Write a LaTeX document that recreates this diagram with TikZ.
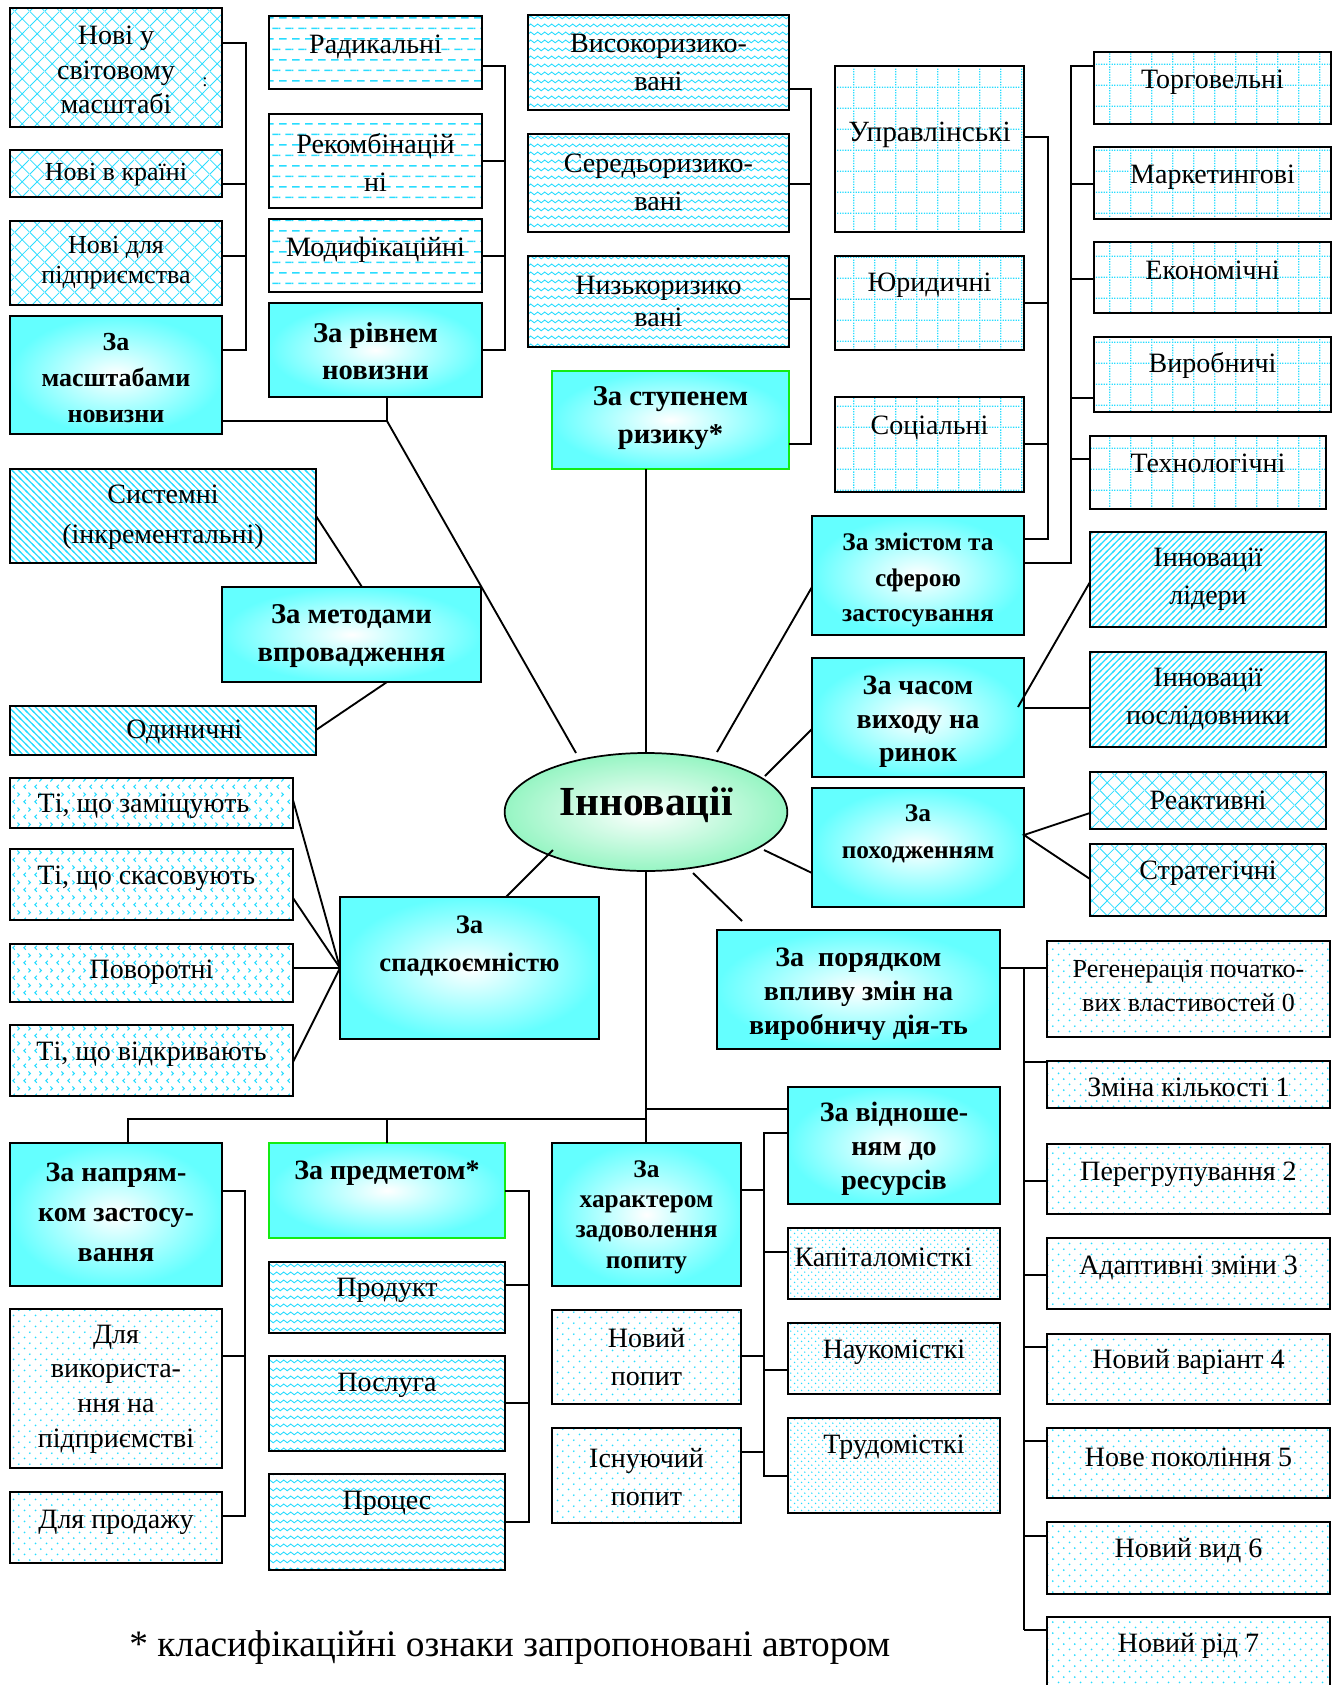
\documentclass[tikz,border=0pt]{standalone}
\usepackage{fontspec}
\setmainfont{Liberation Serif}
\usetikzlibrary{patterns,fit,shapes.geometric}

\definecolor{pc}{RGB}{40,220,255}
\definecolor{cy}{RGB}{100,255,255}
\definecolor{mint}{RGB}{150,245,195}
\definecolor{gbord}{RGB}{20,235,20}

\pgfdeclarepatternformonly{xhatch}{\pgfqpoint{0pt}{0pt}}{\pgfqpoint{11pt}{11pt}}{\pgfqpoint{11pt}{11pt}}{%
 \pgfsetlinewidth{0.6pt}%
 \pgfpathmoveto{\pgfqpoint{0pt}{0pt}}\pgfpathlineto{\pgfqpoint{11pt}{11pt}}%
 \pgfpathmoveto{\pgfqpoint{0pt}{11pt}}\pgfpathlineto{\pgfqpoint{11pt}{0pt}}%
 \pgfusepath{stroke}}
\pgfdeclarepatternformonly{hdash}{\pgfqpoint{0pt}{0pt}}{\pgfqpoint{10pt}{16pt}}{\pgfqpoint{10pt}{16pt}}{%
 \pgfsetlinewidth{1.1pt}%
 \pgfpathmoveto{\pgfqpoint{0pt}{4pt}}\pgfpathlineto{\pgfqpoint{6pt}{4pt}}%
 \pgfpathmoveto{\pgfqpoint{5pt}{12pt}}\pgfpathlineto{\pgfqpoint{10pt}{12pt}}%
 \pgfpathmoveto{\pgfqpoint{0pt}{12pt}}\pgfpathlineto{\pgfqpoint{1pt}{12pt}}%
 \pgfusepath{stroke}}
\pgfdeclarepatternformonly{waves}{\pgfqpoint{0pt}{0pt}}{\pgfqpoint{5.6pt}{6pt}}{\pgfqpoint{5.6pt}{6pt}}{%
 \pgfsetlinewidth{0.75pt}%
 \pgfpathmoveto{\pgfqpoint{0pt}{3pt}}%
 \pgfpathcurveto{\pgfqpoint{0.95pt}{4.5pt}}{\pgfqpoint{1.85pt}{4.5pt}}{\pgfqpoint{2.8pt}{3pt}}%
 \pgfpathcurveto{\pgfqpoint{3.75pt}{1.5pt}}{\pgfqpoint{4.65pt}{1.5pt}}{\pgfqpoint{5.6pt}{3pt}}%
 \pgfusepath{stroke}}
\pgfdeclarepatternformonly{dgrid}{\pgfqpoint{0pt}{0pt}}{\pgfqpoint{16pt}{16pt}}{\pgfqpoint{16pt}{16pt}}{%
 \foreach \i in {0,...,7}{%
   \pgfpathrectangle{\pgfpoint{0pt}{\i*2pt}}{\pgfqpoint{1pt}{1pt}}%
   \pgfpathrectangle{\pgfpoint{\i*2pt}{0pt}}{\pgfqpoint{1pt}{1pt}}}%
 \pgfusepath{fill}}
\pgfdeclarepatternformonly{nwl}{\pgfqpoint{-1pt}{-1pt}}{\pgfqpoint{6pt}{6pt}}{\pgfqpoint{5pt}{5pt}}{%
 \pgfsetlinewidth{0.9pt}%
 \pgfpathmoveto{\pgfqpoint{-1pt}{6pt}}\pgfpathlineto{\pgfqpoint{6pt}{-1pt}}%
 \pgfusepath{stroke}}
\pgfdeclarepatternformonly{nel}{\pgfqpoint{-1pt}{-1pt}}{\pgfqpoint{6pt}{6pt}}{\pgfqpoint{5pt}{5pt}}{%
 \pgfsetlinewidth{0.9pt}%
 \pgfpathmoveto{\pgfqpoint{-1pt}{-1pt}}\pgfpathlineto{\pgfqpoint{6pt}{6pt}}%
 \pgfusepath{stroke}}
\pgfdeclarepatternformonly{chev}{\pgfqpoint{0pt}{0pt}}{\pgfqpoint{8pt}{11pt}}{\pgfqpoint{8pt}{11pt}}{%
 \pgfsetlinewidth{0.8pt}%
 \pgfpathmoveto{\pgfqpoint{3pt}{1pt}}\pgfpathlineto{\pgfqpoint{1.5pt}{2.5pt}}\pgfpathlineto{\pgfqpoint{3pt}{4pt}}%
 \pgfpathmoveto{\pgfqpoint{5pt}{6.5pt}}\pgfpathlineto{\pgfqpoint{6.5pt}{8pt}}\pgfpathlineto{\pgfqpoint{5pt}{9.5pt}}%
 \pgfusepath{stroke}}
\pgfdeclarepatternformonly{sdots}{\pgfqpoint{0pt}{0pt}}{\pgfqpoint{8pt}{8pt}}{\pgfqpoint{8pt}{8pt}}{%
 \pgfpathcircle{\pgfqpoint{2pt}{2pt}}{0.75pt}\pgfpathcircle{\pgfqpoint{6pt}{6pt}}{0.75pt}%
 \pgfusepath{fill}}
\pgfdeclarepatternformonly{ddots}{\pgfqpoint{0pt}{0pt}}{\pgfqpoint{5pt}{5pt}}{\pgfqpoint{5pt}{5pt}}{%
 \pgfpathcircle{\pgfqpoint{1.25pt}{1.25pt}}{0.6pt}\pgfpathcircle{\pgfqpoint{3.75pt}{3.75pt}}{0.6pt}%
 \pgfusepath{fill}}

\tikzset{
 box/.style={draw=black, line width=1.5pt, inner sep=0pt, outer sep=0pt},
 gbox/.style={box, inner color=white, outer color=cy},
 ggbox/.style={gbox, draw=gbord},
 pxh/.style={box, pattern=xhatch, pattern color=pc},
 phd/.style={box, pattern=hdash, pattern color=pc},
 pwv/.style={box, pattern=waves, pattern color=pc},
 pgr/.style={box, pattern=dgrid, pattern color=pc},
 pnw/.style={box, pattern=nwl, pattern color=pc},
 pne/.style={box, pattern=nel, pattern color=pc},
 pch/.style={box, pattern=chev, pattern color=pc},
 pdt/.style={box, pattern=sdots, pattern color=pc},
 pdd/.style={box, pattern=ddots, pattern color=pc},
 tx/.style={align=center, inner sep=0pt},
 fz/.style 2 args={font=\fontsize{#1}{#2}\selectfont},
 fb/.style 2 args={font=\bfseries\fontsize{#1}{#2}\selectfont},
 ln/.style={line width=1.4pt},
}

% name, style, x1, y1, x2, y2, text y, text options, text
\newcommand\mybox[9]{%
 \node[#2, fit={(#3,#4) (#5,#6)}] (#1) {};
 \node[tx,#8] (#1t) at ({(#3+#5)/2},#7) {#9};}

\begin{document}
\begin{tikzpicture}[x=0.75pt,y=-0.75pt]
\useasboundingbox (0,0) rectangle (1338,1685);

% ---- top left
\mybox{A1}{pxh}{10}{8}{222}{127}{70}{fz={21}{26}}{Нові у\\світовому\\масштабі}
\node[fz={14}{14}, inner sep=0pt] (A1dot) at (205,82) {:};
\mybox{A2}{pxh}{10}{150}{222}{197}{175}{fz={19.5}{25}}{Нові в країні}
\mybox{A3}{pxh}{10}{221}{222}{305}{263}{fz={19.5}{22.5}}{Нові для\\підприємства}
\mybox{A4}{gbox}{10}{316}{222}{434}{378}{fb={19.5}{27}}{За\\масштабами\\новизни}

\mybox{B1}{phd}{269}{16}{482}{89}{47}{fz={21}{27}}{Радикальні}
\mybox{B2}{phd}{269}{114}{482}{208}{162}{fz={21}{28.5}}{Рекомбінацій\\ні}
\mybox{B3}{phd}{269}{219}{482}{292}{250}{fz={21}{27}}{Модифікаційні}
\mybox{B4}{gbox}{269}{303}{482}{397}{351}{fb={21.5}{27.5}}{За рівнем\\новизни}

% ---- top middle
\mybox{C1}{pwv}{528}{15}{789}{110}{62}{fz={21}{28.5}}{Високоризико-\\вані}
\mybox{C2}{pwv}{528}{134}{789}{232}{182}{fz={21}{28.5}}{Середьоризико-\\вані}
\mybox{C3}{pwv}{528}{256}{789}{347}{301}{fz={21}{24}}{Низькоризико\\вані}
\mybox{C4}{ggbox}{552}{371}{789}{469}{418}{fb={21.5}{28}}{За ступенем\\ризику*}

\mybox{D1}{pgr}{835}{66}{1024}{232}{135}{fz={22}{27}}{Управлінські}
\mybox{D2}{pgr}{835}{256}{1024}{350}{285}{fz={21}{27}}{Юридичні}
\mybox{D3}{pgr}{835}{397}{1024}{492}{428}{fz={21}{27}}{Соціальні}

\mybox{E1}{pgr}{1094}{52}{1331}{124}{82}{fz={21}{27}}{Торговельні}
\mybox{E2}{pgr}{1094}{147}{1331}{219}{177}{fz={21}{27}}{Маркетингові}
\mybox{E3}{pgr}{1094}{242}{1331}{313}{270}{fz={21}{27}}{Економічні}
\mybox{E4}{pgr}{1094}{337}{1331}{412}{365}{fz={21}{27}}{Виробничі}
\mybox{E5}{pgr}{1090}{436}{1326}{509}{463}{fz={21}{27}}{Технологічні}

% ---- right middle
\mybox{Z}{gbox}{812}{516}{1024}{635}{580}{fb={19}{26.5}}{За змістом та\\сферою\\застосування}
\mybox{T}{gbox}{812}{658}{1024}{777}{722}{fb={21}{25}}{За часом\\виходу на\\ринок}
\mybox{O}{gbox}{812}{788}{1024}{907}{834}{fb={19}{28}}{За\\походженням}
\mybox{L1}{pne}{1090}{532}{1326}{627}{579}{fz={21}{28.5}}{Інновації\\лідери}
\mybox{L2}{pne}{1090}{652}{1326}{747}{699}{fz={21}{28.5}}{Інновації\\послідовники}
\mybox{R1}{pxh}{1090}{772}{1326}{829}{800}{fz={21}{27}}{Реактивні}
\mybox{R2}{pxh}{1090}{844}{1326}{916}{873}{fz={21}{27}}{Стратегічні}

% ---- left middle
\mybox{S1}{pnw}{10}{469}{316}{563}{517}{fz={21}{30}}{Системні\\(інкрементальні)}
\mybox{M}{gbox}{222}{587}{481}{682}{636}{fb={21.5}{28.5}}{За методами\\впровадження}
\mybox{S2}{pnw}{10}{706}{316}{755}{732}{fz={21}{27},xshift=16pt}{Одиничні}

\mybox{K1}{pch}{10}{778}{293}{828}{806}{fz={21}{27},xshift=-6pt}{Ті, що заміщують}
\mybox{K2}{pch}{10}{849}{293}{920}{878}{fz={21}{27},xshift=-4pt}{Ті, що скасовують}
\mybox{K3}{pch}{10}{944}{293}{1002}{972}{fz={21}{27}}{Поворотні}
\mybox{K4}{pch}{10}{1025}{293}{1096}{1054}{fz={21}{27}}{Ті, що відкривають}
\mybox{SP}{gbox}{340}{897}{599}{1039}{946}{fb={20}{28.5}}{За\\спадкоємністю}

% ---- centre ellipse
\node[ellipse, draw, line width=1.3pt, inner color=white, outer color=mint,
      minimum width=212pt, minimum height=88.5pt, inner sep=0pt] (inn) at (646,812) {};
\node[tx, fb={31}{36}] (innt) at (646,805) {Інновації};

% ---- right lower
\mybox{PO}{gbox}{717}{930}{1000}{1049}{994}{fb={21}{25.5}}{За~~порядком\\впливу змін на\\виробничу дія-ть}
\mybox{G1}{pdt}{1047}{941}{1330}{1037}{986}{fz={19.5}{26}}{Регенерація початко-\\вих властивостей 0}
\mybox{G2}{pdt}{1047}{1061}{1330}{1108}{1087}{fz={21}{27}}{Зміна кількості 1}
\mybox{G3}{pdt}{1047}{1144}{1330}{1214}{1174}{fz={21}{27}}{Перегрупування 2}
\mybox{G4}{pdt}{1047}{1238}{1330}{1309}{1268}{fz={21}{27}}{Адаптивні зміни 3}
\mybox{G5}{pdt}{1047}{1334}{1330}{1404}{1362}{fz={21}{27}}{Новий варіант 4}
\mybox{G6}{pdt}{1047}{1428}{1330}{1498}{1457}{fz={21}{27}}{Нове покоління 5}
\mybox{G7}{pdt}{1047}{1522}{1330}{1594}{1551}{fz={21}{27}}{Новий вид 6}
\mybox{G8}{pdt}{1047}{1617}{1330}{1695}{1646}{fz={21}{27}}{Новий рід 7}

% ---- bottom
\mybox{H1}{gbox}{10}{1143}{222}{1286}{1212}{fb={21}{30}}{За напрям-\\ком застосу-\\вання}
\mybox{H2}{ggbox}{269}{1143}{505}{1238}{1173}{fb={21}{27}}{За предметом*}
\mybox{H3}{gbox}{552}{1143}{741}{1286}{1217}{fb={19}{22.8}}{За\\характером\\задоволення\\попиту}
\mybox{RS}{gbox}{788}{1087}{1000}{1204}{1149}{fb={21}{25.5}}{За відноше-\\ням до\\ресурсів}

\mybox{U1}{pdt}{10}{1309}{222}{1468}{1389}{fz={21}{26}}{Для\\використа-\\ння на\\підприємстві}
\mybox{U2}{pdt}{10}{1492}{222}{1563}{1522}{fz={21}{27}}{Для продажу}
\mybox{Q1}{pwv}{269}{1262}{505}{1333}{1290}{fz={21}{27}}{Продукт}
\mybox{Q2}{pwv}{269}{1356}{505}{1451}{1385}{fz={21}{27}}{Послуга}
\mybox{Q3}{pwv}{269}{1474}{505}{1570}{1503}{fz={21}{27}}{Процес}
\mybox{N1}{pdt}{552}{1310}{741}{1404}{1357}{fz={21}{29}}{Новий\\попит}
\mybox{N2}{pdt}{552}{1428}{741}{1523}{1477}{fz={21}{29}}{Існуючий\\попит}
\mybox{W1}{pdd}{788}{1228}{1000}{1299}{1257}{fz={21}{27},xshift=-8pt}{Капіталомісткі}
\mybox{W2}{pdd}{788}{1323}{1000}{1394}{1352}{fz={21}{27}}{Наукомісткі}
\mybox{W3}{pdd}{788}{1418}{1000}{1513}{1447}{fz={21}{27}}{Трудомісткі}

\node[anchor=base west, inner sep=0pt, fz={28}{32}] (note) at (129,1656) {* класифікаційні ознаки запропоновані автором};

% ================= connectors
\coordinate (bA) at (246,0);
\draw[ln] (A1.east |- 0,43) -| (bA |- 0,350) -- (A4.east |- 0,350);
\draw[ln] (A2.east |- 0,184) -- (bA |- 0,184);
\draw[ln] (A3.east |- 0,256) -- (bA |- 0,256);

\coordinate (bB) at (505,0);
\draw[ln] (B1.east |- 0,66) -| (bB |- 0,350) -- (B4.east |- 0,350);
\draw[ln] (B2.east |- 0,161) -- (bB |- 0,161);
\draw[ln] (B3.east |- 0,256) -- (bB |- 0,256);

\coordinate (jAB) at (387,421);
\coordinate (eA) at (576,753);
\draw[ln] (A4.east |- jAB) -- (jAB) -- (B4.south -| jAB);
\draw[ln] (jAB) -- (eA);

\coordinate (bC) at (811,0);
\draw[ln] (C1.east |- 0,89) -| (bC |- 0,444) -- (C4.east |- 0,444);
\draw[ln] (C2.east |- 0,184) -- (bC |- 0,184);
\draw[ln] (C3.east |- 0,299) -- (bC |- 0,299);
\draw[ln] (C4.south -| inn.north) -- (inn.north);

\coordinate (bD) at (1048,0);
\draw[ln] (D1.east |- 0,137) -| (bD |- 0,539) -- (Z.east |- 0,539);
\draw[ln] (D2.east |- 0,303) -- (bD |- 0,303);
\draw[ln] (D3.east |- 0,444) -- (bD |- 0,444);

\coordinate (bE) at (1071,0);
\draw[ln] (E1.west |- 0,66) -| (bE |- 0,563) -- (Z.east |- 0,563);
\draw[ln] (E2.west |- 0,184) -- (bE |- 0,184);
\draw[ln] (E3.west |- 0,279) -- (bE |- 0,279);
\draw[ln] (E4.west |- 0,398) -- (bE |- 0,398);
\draw[ln] (E5.west |- 0,459) -- (bE |- 0,459);

\coordinate (eZ) at (717,752);
\draw[ln] (Z.west |- 0,587) -- (eZ);
\coordinate (eT) at (765,776);
\draw[ln] (T.west |- 0,729) -- (eT);
\draw[ln] (T.east |- 0,708) -- (L2.west |- 0,708);
\coordinate (tL) at (1018,707);
\draw[ln] (tL) -- (L1.west |- 0,582);
\coordinate (eO) at (764,850);
\draw[ln] (O.west |- 0,873) -- (eO);
\draw[ln] (R1.west |- 0,813) -- (O.east |- 0,835) -- (R2.west |- 0,879);

\draw[ln] (S1.east |- 0,516) -- (M.north -| 362,0);
\draw[ln] (M.south -| 387,0) -- (S2.east |- 0,730);

\coordinate (eS) at (553,850);
\draw[ln] (eS) -- (SP.north -| 506,0);
\draw[ln] (K1.east |- 0,800) -- (SP.west |- 0,968);
\draw[ln] (K2.east |- 0,898) -- (SP.west |- 0,968);
\draw[ln] (K3.east |- 0,968) -- (SP.west |- 0,968);
\draw[ln] (K4.east |- 0,1062) -- (SP.west |- 0,968);

\coordinate (eP) at (693,873);
\coordinate (pP) at (742,921);
\draw[ln] (eP) -- (pP);

\coordinate (bP) at (1024,0);
\draw[ln] (PO.east |- 0,968) -- (G1.west |- 0,968);
\draw[ln] (bP |- 0,968) -- (bP |- 0,1630);
\draw[ln] (bP |- 0,1062) -- (G2.west |- 0,1062);
\draw[ln] (bP |- 0,1181) -- (G3.west |- 0,1181);
\draw[ln] (bP |- 0,1275) -- (G4.west |- 0,1275);
\draw[ln] (bP |- 0,1347) -- (G5.west |- 0,1347);
\draw[ln] (bP |- 0,1441) -- (G6.west |- 0,1441);
\draw[ln] (bP |- 0,1536) -- (G7.west |- 0,1536);
\draw[ln] (bP |- 0,1630) -- (G8.west |- 0,1630);

\draw[ln] (inn.south) -- (H3.north -| inn.south);
\coordinate (bb) at (646,1119);
\draw[ln] (bb) -| (H1.north -| 128,0);
\draw[ln] (H2.north) -- (H2.north |- bb);
\draw[ln] (inn.south |- 0,1109) -- (RS.west |- 0,1109);

\coordinate (bH1) at (245,0);
\draw[ln] (H1.east |- 0,1191) -| (bH1 |- 0,1516) -- (U2.east |- 0,1516);
\draw[ln] (U1.east |- 0,1356) -- (bH1 |- 0,1356);

\coordinate (bH2) at (529,0);
\draw[ln] (H2.east |- 0,1191) -| (bH2 |- 0,1522) -- (Q3.east |- 0,1522);
\draw[ln] (Q1.east |- 0,1285) -- (bH2 |- 0,1285);
\draw[ln] (Q2.east |- 0,1403) -- (bH2 |- 0,1403);

\coordinate (bR) at (764,0);
\draw[ln] (RS.west |- 0,1133) -| (bR |- 0,1476) -- (W3.west |- 0,1476);
\draw[ln] (H3.east |- 0,1190) -- (bR |- 0,1190);
\draw[ln] (W1.west |- 0,1252) -- (bR |- 0,1252);
\draw[ln] (N1.east |- 0,1356) -- (bR |- 0,1356);
\draw[ln] (W2.west |- 0,1370) -- (bR |- 0,1370);
\draw[ln] (N2.east |- 0,1452) -- (bR |- 0,1452);
\end{tikzpicture}
\end{document}
